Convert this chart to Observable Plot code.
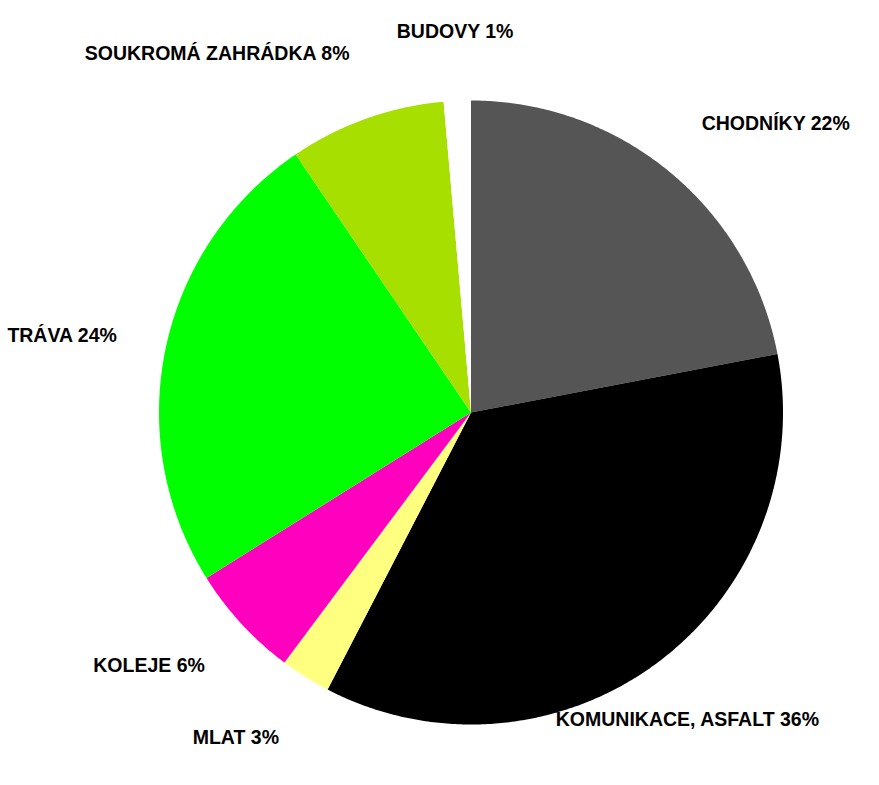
<!DOCTYPE html>
<html>
<head>
<meta charset="utf-8">
<script src="https://cdn.jsdelivr.net/npm/d3@7"></script>
<script src="https://cdn.jsdelivr.net/npm/@observablehq/plot@0.6"></script>
<style>
  html, body { margin: 0; padding: 0; background: #fff; }
  #chart svg { display: block; }
</style>
</head>
<body>
<div id="chart"></div>
<script>
// Data (share of area, %)
const categories = ["CHODNÍKY", "KOMUNIKACE, ASFALT", "MLAT", "KOLEJE", "TRÁVA", "SOUKROMÁ ZAHRÁDKA", "BUDOVY"];
const values = [22.0, 35.6, 2.6, 5.9, 24.4, 8.1, 1.4];
const percentLabels = ["22%", "36%", "3%", "6%", "24%", "8%", "1%"];
const colors = ["#555555", "#000000", "#ffff80", "#ff00bf", "#00ff00", "#a6df00", "#ffffff"];

// Build slices (clockwise from 12 o'clock) in unit-circle data space
const total = d3.sum(values);
const slices = [];
let acc = 0;
categories.forEach((name, i) => {
  const a0 = acc / total * 2 * Math.PI;
  acc += values[i];
  const a1 = acc / total * 2 * Math.PI;
  slices.push({name, a0, a1, mid: (a0 + a1) / 2, label: name + " " + percentLabels[i]});
});

const points = [];
for (const s of slices) {
  points.push({name: s.name, x: 0, y: 0});
  const n = Math.max(2, Math.ceil((s.a1 - s.a0) / (Math.PI / 360)));
  for (let k = 0; k <= n; k++) {
    const a = s.a0 + (s.a1 - s.a0) * k / n;
    points.push({name: s.name, x: Math.sin(a), y: Math.cos(a)});
  }
  points.push({name: s.name, x: 0, y: 0});
}

// Label marks: positioned outside the pie at the slice mid-angle
const labelRx = 1.16, labelRy = 1.2;
const textMarks = slices.map(s => {
  const sx = Math.sin(s.mid), cy = Math.cos(s.mid);
  const textAnchor = sx > 0.6 ? "start" : sx < -0.25 ? "end" : "middle";
  const lineAnchor = cy > 0.8 ? "bottom" : cy < -0.8 ? "top" : "middle";
  return Plot.text([s], {
    x: d => labelRx * Math.sin(d.mid),
    y: d => labelRy * Math.cos(d.mid),
    text: "label",
    textAnchor,
    lineAnchor,
    fill: "#000",
    fontSize: 19.5,
    fontWeight: "bold",
    fontFamily: "Liberation Sans, Arial, sans-serif"
  });
});

const chart = Plot.plot({
  width: 879,
  height: 785,
  margin: 0,
  x: {domain: [-1, 1], range: [158.5, 782.5], axis: null},
  y: {domain: [-1, 1], range: [724, 100], axis: null},
  color: {domain: categories, range: colors},
  style: {background: "#fff"},
  marks: [
    Plot.line(points, {x: "x", y: "y", z: "name", fill: "name", stroke: "none", curve: "linear"}),
    ...textMarks
  ]
});
document.getElementById("chart").appendChild(chart);
</script>
</body>
</html>
